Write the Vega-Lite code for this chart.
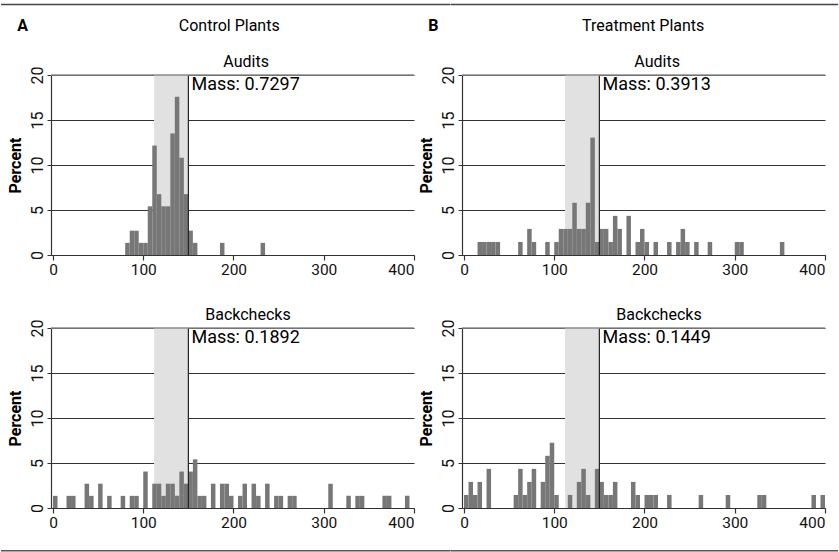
{
  "$schema": "https://vega.github.io/schema/vega-lite/v6.json",
  "padding": {"left": 0, "top": 3, "right": 0, "bottom": 0},
  "bounds": "flush",
  "columns": 2,
  "spacing": {"row": 73, "column": 48},
  "config": {
    "font": "Roboto",
    "view": {"stroke": null},
    "axis": {"labelFontSize": 15.5, "labelColor": "#111", "domainColor": "#333", "tickColor": "#333", "gridColor": "#333", "titleFontSize": 16, "titleFontWeight": "bold", "titleColor": "#000"},
    "text": {"fontSize": 16, "color": "#000"}
  },
  "datasets": {
    "ctrl_aud": [
      {"b": 80, "e": 85, "p": 1.35}, {"b": 85, "e": 90, "p": 2.70}, {"b": 90, "e": 95, "p": 2.70}, {"b": 95, "e": 100, "p": 1.35},
      {"b": 100, "e": 105, "p": 1.35}, {"b": 105, "e": 110, "p": 5.41}, {"b": 110, "e": 115, "p": 12.16}, {"b": 115, "e": 120, "p": 6.76},
      {"b": 120, "e": 125, "p": 5.41}, {"b": 125, "e": 130, "p": 5.41}, {"b": 130, "e": 135, "p": 13.51}, {"b": 135, "e": 140, "p": 17.57},
      {"b": 140, "e": 145, "p": 10.81}, {"b": 145, "e": 150, "p": 6.76}, {"b": 150, "e": 155, "p": 2.70}, {"b": 155, "e": 160, "p": 1.35},
      {"b": 185, "e": 190, "p": 1.35}, {"b": 230, "e": 235, "p": 1.35}
    ],
    "trt_aud": [
      {"b": 15, "e": 20, "p": 1.45}, {"b": 20, "e": 25, "p": 1.45}, {"b": 25, "e": 30, "p": 1.45}, {"b": 30, "e": 35, "p": 1.45},
      {"b": 35, "e": 40, "p": 1.45}, {"b": 60, "e": 65, "p": 1.45}, {"b": 70, "e": 75, "p": 2.90}, {"b": 75, "e": 80, "p": 1.45},
      {"b": 90, "e": 95, "p": 1.45}, {"b": 100, "e": 105, "p": 1.45}, {"b": 105, "e": 110, "p": 2.90}, {"b": 110, "e": 115, "p": 2.90},
      {"b": 115, "e": 120, "p": 2.90}, {"b": 120, "e": 125, "p": 5.80}, {"b": 125, "e": 130, "p": 2.90}, {"b": 130, "e": 135, "p": 2.90},
      {"b": 135, "e": 140, "p": 5.80}, {"b": 140, "e": 145, "p": 13.04}, {"b": 145, "e": 150, "p": 1.45}, {"b": 150, "e": 155, "p": 2.90},
      {"b": 155, "e": 160, "p": 2.90}, {"b": 160, "e": 165, "p": 1.45}, {"b": 165, "e": 170, "p": 4.35}, {"b": 170, "e": 175, "p": 2.90},
      {"b": 180, "e": 185, "p": 4.35}, {"b": 190, "e": 195, "p": 1.45}, {"b": 195, "e": 200, "p": 2.90}, {"b": 200, "e": 205, "p": 1.45},
      {"b": 210, "e": 215, "p": 1.45}, {"b": 225, "e": 230, "p": 1.45}, {"b": 235, "e": 240, "p": 1.45}, {"b": 240, "e": 245, "p": 2.90},
      {"b": 245, "e": 250, "p": 1.45}, {"b": 255, "e": 260, "p": 1.45}, {"b": 270, "e": 275, "p": 1.45}, {"b": 300, "e": 305, "p": 1.45},
      {"b": 305, "e": 310, "p": 1.45}, {"b": 350, "e": 355, "p": 1.45}
    ],
    "ctrl_back": [
      {"b": 0, "e": 5, "p": 1.35}, {"b": 15, "e": 20, "p": 1.35}, {"b": 20, "e": 25, "p": 1.35}, {"b": 35, "e": 40, "p": 2.70},
      {"b": 40, "e": 45, "p": 1.35}, {"b": 50, "e": 55, "p": 2.70}, {"b": 60, "e": 65, "p": 1.35}, {"b": 75, "e": 80, "p": 1.35},
      {"b": 85, "e": 90, "p": 1.35}, {"b": 90, "e": 95, "p": 1.35}, {"b": 100, "e": 105, "p": 4.05}, {"b": 110, "e": 115, "p": 2.70},
      {"b": 115, "e": 120, "p": 2.70}, {"b": 120, "e": 125, "p": 1.35}, {"b": 125, "e": 130, "p": 2.70}, {"b": 130, "e": 135, "p": 2.70},
      {"b": 135, "e": 140, "p": 1.35}, {"b": 140, "e": 145, "p": 4.05}, {"b": 145, "e": 150, "p": 2.70}, {"b": 150, "e": 155, "p": 4.05},
      {"b": 155, "e": 160, "p": 5.41}, {"b": 160, "e": 165, "p": 1.35}, {"b": 165, "e": 170, "p": 1.35}, {"b": 175, "e": 180, "p": 2.70},
      {"b": 185, "e": 190, "p": 2.70}, {"b": 190, "e": 195, "p": 2.70}, {"b": 195, "e": 200, "p": 1.35}, {"b": 205, "e": 210, "p": 1.35},
      {"b": 210, "e": 215, "p": 2.70}, {"b": 220, "e": 225, "p": 2.70}, {"b": 225, "e": 230, "p": 1.35}, {"b": 235, "e": 240, "p": 2.70},
      {"b": 245, "e": 250, "p": 1.35}, {"b": 250, "e": 255, "p": 1.35}, {"b": 260, "e": 265, "p": 1.35}, {"b": 265, "e": 270, "p": 1.35},
      {"b": 305, "e": 310, "p": 2.70}, {"b": 325, "e": 330, "p": 1.35}, {"b": 335, "e": 340, "p": 1.35}, {"b": 340, "e": 345, "p": 1.35},
      {"b": 365, "e": 370, "p": 1.35}, {"b": 370, "e": 375, "p": 1.35}, {"b": 390, "e": 395, "p": 1.35}
    ],
    "trt_back": [
      {"b": 0, "e": 5, "p": 1.45}, {"b": 5, "e": 10, "p": 2.90}, {"b": 10, "e": 15, "p": 1.45}, {"b": 15, "e": 20, "p": 2.90},
      {"b": 25, "e": 30, "p": 4.35}, {"b": 55, "e": 60, "p": 1.45}, {"b": 60, "e": 65, "p": 4.35}, {"b": 65, "e": 70, "p": 1.45},
      {"b": 70, "e": 75, "p": 2.90}, {"b": 75, "e": 80, "p": 4.35}, {"b": 85, "e": 90, "p": 2.90}, {"b": 90, "e": 95, "p": 5.80},
      {"b": 95, "e": 100, "p": 7.25}, {"b": 100, "e": 105, "p": 1.45}, {"b": 115, "e": 120, "p": 1.45}, {"b": 125, "e": 130, "p": 2.90},
      {"b": 130, "e": 135, "p": 4.35}, {"b": 135, "e": 140, "p": 1.45}, {"b": 145, "e": 150, "p": 4.35}, {"b": 150, "e": 155, "p": 2.90},
      {"b": 155, "e": 160, "p": 1.45}, {"b": 160, "e": 165, "p": 1.45}, {"b": 165, "e": 170, "p": 2.90}, {"b": 185, "e": 190, "p": 2.90},
      {"b": 190, "e": 195, "p": 1.45}, {"b": 200, "e": 205, "p": 1.45}, {"b": 205, "e": 210, "p": 1.45}, {"b": 210, "e": 215, "p": 1.45},
      {"b": 225, "e": 230, "p": 1.45}, {"b": 260, "e": 265, "p": 1.45}, {"b": 290, "e": 295, "p": 1.45}, {"b": 325, "e": 330, "p": 1.45},
      {"b": 330, "e": 335, "p": 1.45}, {"b": 385, "e": 390, "p": 1.45}, {"b": 395, "e": 400, "p": 1.45}
    ]
  },
  "concat": [
    {
      "width": 363, "height": 180,
      "layer": [
        {"data": {"values": [{"s": 112, "e": 150}]}, "mark": {"type": "rect", "color": "#e1e1e1"},
         "encoding": {
           "x": {"field": "s", "type": "quantitative", "scale": {"domain": [-2.2, 400], "nice": false, "zero": false}, "axis": {"values": [0, 100, 200, 300, 400], "title": null, "grid": false, "tickSize": 5, "labelPadding": 2, "domainWidth": 1.2, "tickWidth": 1.2}},
           "x2": {"field": "e"},
           "y": {"datum": 0, "type": "quantitative", "scale": {"domain": [0, 20], "nice": false}, "axis": {"values": [0, 5, 10, 15, 20], "title": "Percent", "grid": true, "gridWidth": 1.2, "tickSize": 4, "labelAngle": -90, "labelAlign": "center", "labelBaseline": "bottom", "labelPadding": 2, "titlePadding": 6, "domainWidth": 1.2, "labelFontSize": 16}},
           "y2": {"datum": 20}}},
        {"data": {"name": "ctrl_aud"}, "mark": {"type": "rect", "color": "#777777"},
         "encoding": {"x": {"field": "b", "type": "quantitative"}, "x2": {"field": "e"}, "y": {"field": "p", "type": "quantitative"}, "y2": {"datum": 0}}},
        {"data": {"values": [{"v": 150}]}, "mark": {"type": "rule", "color": "#222", "strokeWidth": 1.2},
         "encoding": {"x": {"field": "v", "type": "quantitative"}, "y": {"datum": 0}, "y2": {"datum": 20}}},
        {"data": {"values": [{"a": -2.2, "c": 400, "y": 20}]}, "mark": {"type": "rule", "color": "#8a8a8a", "strokeWidth": 1.5},
         "encoding": {"x": {"field": "a", "type": "quantitative"}, "x2": {"field": "c"}, "y": {"field": "y", "type": "quantitative"}}},
        {"data": {"values": [{"x": 153.5, "y": 18.9, "t": "Mass: 0.7297"}]}, "mark": {"type": "text", "align": "left", "baseline": "middle", "fontSize": 18},
         "encoding": {"x": {"field": "x", "type": "quantitative"}, "y": {"field": "y", "type": "quantitative"}, "text": {"field": "t"}}},
        {"data": {"values": [{"x": 214, "y": 20.85, "t": "Audits"}]}, "mark": {"type": "text", "align": "center", "baseline": "alphabetic", "fontSize": 16},
         "encoding": {"x": {"field": "x", "type": "quantitative"}, "y": {"field": "y", "type": "quantitative"}, "text": {"field": "t"}}},
        {"data": {"values": [{"x": -39.6, "y": 25.4, "t": "A"}]}, "mark": {"type": "text", "align": "left", "baseline": "middle", "fontSize": 16, "fontWeight": "bold"},
         "encoding": {"x": {"field": "x", "type": "quantitative"}, "y": {"field": "y", "type": "quantitative"}, "text": {"field": "t"}}},
        {"data": {"values": [{"x": 195.3, "y": 25.4, "t": "Control Plants"}]}, "mark": {"type": "text", "align": "center", "baseline": "middle", "fontSize": 16},
         "encoding": {"x": {"field": "x", "type": "quantitative"}, "y": {"field": "y", "type": "quantitative"}, "text": {"field": "t"}}},
        {"data": {"values": [{"a": -57.6, "c": 440, "y": 27.75, "y2": 27.92}]}, "mark": {"type": "rect", "color": "#444"},
         "encoding": {"x": {"field": "a", "type": "quantitative"}, "x2": {"field": "c"}, "y": {"field": "y", "type": "quantitative"}, "y2": {"field": "y2"}}}
      ]
    },
    {
      "width": 363, "height": 180,
      "layer": [
        {"data": {"values": [{"s": 112, "e": 150}]}, "mark": {"type": "rect", "color": "#e1e1e1"},
         "encoding": {
           "x": {"field": "s", "type": "quantitative", "scale": {"domain": [-2.2, 400], "nice": false, "zero": false}, "axis": {"values": [0, 100, 200, 300, 400], "title": null, "grid": false, "tickSize": 5, "labelPadding": 2, "domainWidth": 1.2, "tickWidth": 1.2}},
           "x2": {"field": "e"},
           "y": {"datum": 0, "type": "quantitative", "scale": {"domain": [0, 20], "nice": false}, "axis": {"values": [0, 5, 10, 15, 20], "title": "Percent", "grid": true, "gridWidth": 1.2, "tickSize": 4, "labelAngle": -90, "labelAlign": "center", "labelBaseline": "bottom", "labelPadding": 2, "titlePadding": 6, "domainWidth": 1.2, "labelFontSize": 16}},
           "y2": {"datum": 20}}},
        {"data": {"name": "trt_aud"}, "mark": {"type": "rect", "color": "#777777"},
         "encoding": {"x": {"field": "b", "type": "quantitative"}, "x2": {"field": "e"}, "y": {"field": "p", "type": "quantitative"}, "y2": {"datum": 0}}},
        {"data": {"values": [{"v": 150}]}, "mark": {"type": "rule", "color": "#222", "strokeWidth": 1.2},
         "encoding": {"x": {"field": "v", "type": "quantitative"}, "y": {"datum": 0}, "y2": {"datum": 20}}},
        {"data": {"values": [{"a": -2.2, "c": 400, "y": 20}]}, "mark": {"type": "rule", "color": "#8a8a8a", "strokeWidth": 1.5},
         "encoding": {"x": {"field": "a", "type": "quantitative"}, "x2": {"field": "c"}, "y": {"field": "y", "type": "quantitative"}}},
        {"data": {"values": [{"x": 153.5, "y": 18.9, "t": "Mass: 0.3913"}]}, "mark": {"type": "text", "align": "left", "baseline": "middle", "fontSize": 18},
         "encoding": {"x": {"field": "x", "type": "quantitative"}, "y": {"field": "y", "type": "quantitative"}, "text": {"field": "t"}}},
        {"data": {"values": [{"x": 214, "y": 20.85, "t": "Audits"}]}, "mark": {"type": "text", "align": "center", "baseline": "alphabetic", "fontSize": 16},
         "encoding": {"x": {"field": "x", "type": "quantitative"}, "y": {"field": "y", "type": "quantitative"}, "text": {"field": "t"}}},
        {"data": {"values": [{"x": -39.6, "y": 25.4, "t": "B"}]}, "mark": {"type": "text", "align": "left", "baseline": "middle", "fontSize": 16, "fontWeight": "bold"},
         "encoding": {"x": {"field": "x", "type": "quantitative"}, "y": {"field": "y", "type": "quantitative"}, "text": {"field": "t"}}},
        {"data": {"values": [{"x": 198.6, "y": 25.4, "t": "Treatment Plants"}]}, "mark": {"type": "text", "align": "center", "baseline": "middle", "fontSize": 16},
         "encoding": {"x": {"field": "x", "type": "quantitative"}, "y": {"field": "y", "type": "quantitative"}, "text": {"field": "t"}}},
        {"data": {"values": [{"a": -15, "c": 414.5, "y": 27.75, "y2": 27.92}]}, "mark": {"type": "rect", "color": "#444"},
         "encoding": {"x": {"field": "a", "type": "quantitative"}, "x2": {"field": "c"}, "y": {"field": "y", "type": "quantitative"}, "y2": {"field": "y2"}}}
      ]
    },
    {
      "width": 363, "height": 180,
      "layer": [
        {"data": {"values": [{"s": 112, "e": 150}]}, "mark": {"type": "rect", "color": "#e1e1e1"},
         "encoding": {
           "x": {"field": "s", "type": "quantitative", "scale": {"domain": [-2.2, 400], "nice": false, "zero": false}, "axis": {"values": [0, 100, 200, 300, 400], "title": null, "grid": false, "tickSize": 5, "labelPadding": 2, "domainWidth": 1.2, "tickWidth": 1.2}},
           "x2": {"field": "e"},
           "y": {"datum": 0, "type": "quantitative", "scale": {"domain": [0, 20], "nice": false}, "axis": {"values": [0, 5, 10, 15, 20], "title": "Percent", "grid": true, "gridWidth": 1.2, "tickSize": 4, "labelAngle": -90, "labelAlign": "center", "labelBaseline": "bottom", "labelPadding": 2, "titlePadding": 6, "domainWidth": 1.2, "labelFontSize": 16}},
           "y2": {"datum": 20}}},
        {"data": {"name": "ctrl_back"}, "mark": {"type": "rect", "color": "#777777"},
         "encoding": {"x": {"field": "b", "type": "quantitative"}, "x2": {"field": "e"}, "y": {"field": "p", "type": "quantitative"}, "y2": {"datum": 0}}},
        {"data": {"values": [{"v": 150}]}, "mark": {"type": "rule", "color": "#222", "strokeWidth": 1.2},
         "encoding": {"x": {"field": "v", "type": "quantitative"}, "y": {"datum": 0}, "y2": {"datum": 20}}},
        {"data": {"values": [{"a": -2.2, "c": 400, "y": 20}]}, "mark": {"type": "rule", "color": "#8a8a8a", "strokeWidth": 1.5},
         "encoding": {"x": {"field": "a", "type": "quantitative"}, "x2": {"field": "c"}, "y": {"field": "y", "type": "quantitative"}}},
        {"data": {"values": [{"x": 153.5, "y": 18.9, "t": "Mass: 0.1892"}]}, "mark": {"type": "text", "align": "left", "baseline": "middle", "fontSize": 18},
         "encoding": {"x": {"field": "x", "type": "quantitative"}, "y": {"field": "y", "type": "quantitative"}, "text": {"field": "t"}}},
        {"data": {"values": [{"x": 216, "y": 20.85, "t": "Backchecks"}]}, "mark": {"type": "text", "align": "center", "baseline": "alphabetic", "fontSize": 16},
         "encoding": {"x": {"field": "x", "type": "quantitative"}, "y": {"field": "y", "type": "quantitative"}, "text": {"field": "t"}}},
        {"data": {"values": [{"a": -57.6, "c": 440, "y": -4.75}]}, "mark": {"type": "rule", "color": "#555", "strokeWidth": 1.5},
         "encoding": {"x": {"field": "a", "type": "quantitative"}, "x2": {"field": "c"}, "y": {"field": "y", "type": "quantitative"}}}
      ]
    },
    {
      "width": 363, "height": 180,
      "layer": [
        {"data": {"values": [{"s": 112, "e": 150}]}, "mark": {"type": "rect", "color": "#e1e1e1"},
         "encoding": {
           "x": {"field": "s", "type": "quantitative", "scale": {"domain": [-2.2, 400], "nice": false, "zero": false}, "axis": {"values": [0, 100, 200, 300, 400], "title": null, "grid": false, "tickSize": 5, "labelPadding": 2, "domainWidth": 1.2, "tickWidth": 1.2}},
           "x2": {"field": "e"},
           "y": {"datum": 0, "type": "quantitative", "scale": {"domain": [0, 20], "nice": false}, "axis": {"values": [0, 5, 10, 15, 20], "title": "Percent", "grid": true, "gridWidth": 1.2, "tickSize": 4, "labelAngle": -90, "labelAlign": "center", "labelBaseline": "bottom", "labelPadding": 2, "titlePadding": 6, "domainWidth": 1.2, "labelFontSize": 16}},
           "y2": {"datum": 20}}},
        {"data": {"name": "trt_back"}, "mark": {"type": "rect", "color": "#777777"},
         "encoding": {"x": {"field": "b", "type": "quantitative"}, "x2": {"field": "e"}, "y": {"field": "p", "type": "quantitative"}, "y2": {"datum": 0}}},
        {"data": {"values": [{"v": 150}]}, "mark": {"type": "rule", "color": "#222", "strokeWidth": 1.2},
         "encoding": {"x": {"field": "v", "type": "quantitative"}, "y": {"datum": 0}, "y2": {"datum": 20}}},
        {"data": {"values": [{"a": -2.2, "c": 400, "y": 20}]}, "mark": {"type": "rule", "color": "#8a8a8a", "strokeWidth": 1.5},
         "encoding": {"x": {"field": "a", "type": "quantitative"}, "x2": {"field": "c"}, "y": {"field": "y", "type": "quantitative"}}},
        {"data": {"values": [{"x": 153.5, "y": 18.9, "t": "Mass: 0.1449"}]}, "mark": {"type": "text", "align": "left", "baseline": "middle", "fontSize": 18},
         "encoding": {"x": {"field": "x", "type": "quantitative"}, "y": {"field": "y", "type": "quantitative"}, "text": {"field": "t"}}},
        {"data": {"values": [{"x": 216, "y": 20.85, "t": "Backchecks"}]}, "mark": {"type": "text", "align": "center", "baseline": "alphabetic", "fontSize": 16},
         "encoding": {"x": {"field": "x", "type": "quantitative"}, "y": {"field": "y", "type": "quantitative"}, "text": {"field": "t"}}},
        {"data": {"values": [{"a": -15, "c": 414.5, "y": -4.75}]}, "mark": {"type": "rule", "color": "#555", "strokeWidth": 1.5},
         "encoding": {"x": {"field": "a", "type": "quantitative"}, "x2": {"field": "c"}, "y": {"field": "y", "type": "quantitative"}}}
      ]
    }
  ]
}
